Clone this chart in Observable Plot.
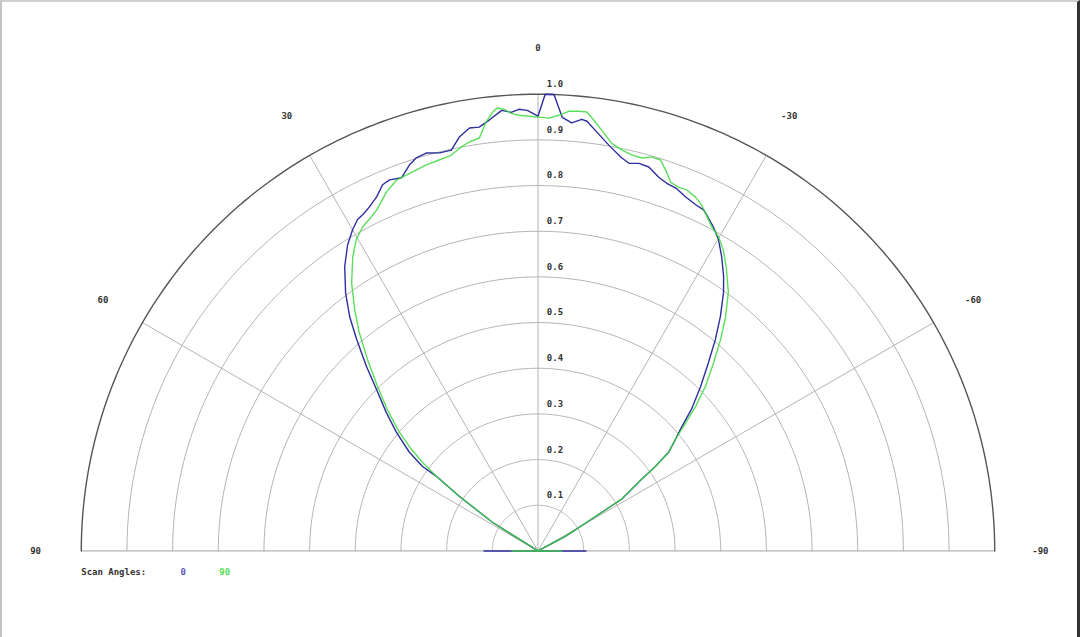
<!DOCTYPE html>
<html>
<head>
<meta charset="utf-8">
<script src="https://cdn.jsdelivr.net/npm/d3@7"></script>
<script src="https://cdn.jsdelivr.net/npm/@observablehq/plot@0.6"></script>
<style>
  html, body { margin: 0; padding: 0; background: #fff; }
  #frame { position: relative; width: 1080px; height: 637px; box-sizing: border-box;
           border-top: 2px solid #d0d0d0; border-left: 2px solid #c4c4c4; border-right: 3px solid #333; overflow: hidden; }
  #chart { position: absolute; left: -2px; top: -2px; }
  svg text { font-family: "DejaVu Sans Mono", "Liberation Mono", monospace; font-weight: bold; }
</style>
</head>
<body>
<div id="frame"><div id="chart"></div></div>
<script>
// ---- data: angle (deg, positive = left of 0) and normalised radius ----
const blueAngles = [90, 89, 59, 57.8, 55.2, 53.7, 53.8, 52.5, 50.0, 47.6, 45, 42.9, 40.6, 38.8, 36.7, 34.2, 31.9, 30.0, 28.6, 27.2, 26.1, 24.5, 23.0, 21.8, 20.1, 18.4, 17.2, 15.7, 13.9, 12.2, 10.8, 9.2, 7.9, 6.5, 4.7, 3.5, 2.5, 1.4, 0, -0.9, -2.0, -3.2, -4.5, -5.8, -6.5, -8.0, -9.9, -11.9, -13.2, -14.6, -16.1, -17.9, -19.3, -20.8, -22.6, -24.5, -25.9, -27.1, -28.4, -30.1, -32.0, -34.1, -35.7, -37.9, -40.0, -42.1, -44.7, -47.3, -49.5, -50.9, -52.9, -54.2, -55.3, -58.2, -59.3, -61.8, -63, -89, -90];
const blueRadii  = [0.118, 0, 0, 0.119, 0.21, 0.276, 0.314, 0.355, 0.405, 0.45, 0.5, 0.552, 0.61, 0.658, 0.705, 0.753, 0.789, 0.812, 0.826, 0.832, 0.839, 0.852, 0.871, 0.875, 0.870, 0.891, 0.901, 0.905, 0.898, 0.898, 0.922, 0.938, 0.937, 0.949, 0.968, 0.962, 0.968, 0.965, 0.952, 1.0, 1.0, 0.951, 0.940, 0.950, 0.947, 0.926, 0.902, 0.881, 0.872, 0.877, 0.875, 0.860, 0.853, 0.850, 0.840, 0.833, 0.830, 0.819, 0.807, 0.788, 0.759, 0.725, 0.696, 0.650, 0.604, 0.557, 0.506, 0.457, 0.410, 0.388, 0.359, 0.318, 0.276, 0.216, 0.137, 0.069, 0, 0, 0.105];

const greenAngles = [90, 89, 59, 57.8, 55.2, 53.7, 52.5, 51.2, 49.4, 46.8, 44.3, 41.7, 39.3, 37.2, 34.8, 32.2, 30.3, 28.4, 26.9, 25.3, 22.9, 20.9, 19.3, 17.7, 16.1, 14.2, 12.4, 10.8, 9.55, 8.1, 6.9, 6.0, 5.3, 4.4, 3.5, 2.5, 1.2, 0, -1.45, -2.75, -4.0, -5.3, -6.35, -7.4, -8.6, -10.25, -11.8, -13.3, -14.8, -16.1, -17.4, -18.5, -19.8, -21.1, -22.4, -24.0, -25.3, -26.6, -28.2, -29.9, -31.6, -33.6, -36.3, -38.7, -40.8, -43.0, -45.5, -47.5, -49.4, -50.9, -52.9, -54.2, -55.3, -58.2, -59.3, -61.8, -63, -89, -90];
const greenRadii  = [0.057, 0, 0, 0.119, 0.21, 0.276, 0.319, 0.356, 0.400, 0.453, 0.503, 0.561, 0.618, 0.664, 0.715, 0.761, 0.789, 0.807, 0.815, 0.826, 0.853, 0.869, 0.872, 0.876, 0.880, 0.883, 0.887, 0.900, 0.908, 0.913, 0.946, 0.964, 0.974, 0.970, 0.960, 0.955, 0.952, 0.950, 0.948, 0.955, 0.965, 0.967, 0.967, 0.951, 0.932, 0.907, 0.897, 0.891, 0.890, 0.898, 0.897, 0.880, 0.858, 0.854, 0.855, 0.848, 0.838, 0.823, 0.805, 0.793, 0.774, 0.745, 0.704, 0.657, 0.612, 0.564, 0.514, 0.468, 0.420, 0.388, 0.359, 0.318, 0.276, 0.216, 0.137, 0.069, 0, 0, 0.052];

const ringValues   = [0.1, 0.2, 0.3, 0.4, 0.5, 0.6, 0.7, 0.8, 0.9, 1.0];
const ringLabels   = ["0.1", "0.2", "0.3", "0.4", "0.5", "0.6", "0.7", "0.8", "0.9", "1.0"];
const spokeAngles  = [60, 30, 0, -30, -60];
const angleTicks   = [90, 60, 30, 0, -30, -60, -90];
const angleLabels  = ["90", "60", "30", "0", "-30", "-60", "-90"];
const seriesNames  = ["0", "90"];
const seriesColors = ["#2e2e9e", "#3ed83e"];
const legendColors = ["#5555b8", "#55dd55"];
const legendTitle  = "Scan Angles:";

// ---- polar helpers (0 deg at top, positive angles to the left) ----
const rad = a => a * Math.PI / 180;
const px = (a, r) => -r * Math.sin(rad(a));
const py = (a, r) => r * Math.cos(rad(a));

function toXY(angles, radii, name) {
  return angles.map((a, i) => ({x: px(a, radii[i]), y: py(a, radii[i]), s: name}));
}
const blue = toXY(blueAngles, blueRadii, seriesNames[0]);
const green = toXY(greenAngles, greenRadii, seriesNames[1]);

// grid rings (geometry)
const sweep = d3.range(-90, 90.5, 1);
const rings = ringValues.flatMap(r => sweep.map(a => ({x: px(a, r), y: py(a, r), r})));
const innerRings = rings.filter(d => d.r < 1);
const outerRing = rings.filter(d => d.r === 1);
const spokes = spokeAngles.map(a => ({x2: px(a, 1), y2: py(a, 1)}));
const angLab = angleTicks.map((a, i) => ({x: px(a, 1.1), y: py(a, 1.1), t: angleLabels[i]}));
const ringLab = ringValues.map((r, i) => ({x: 0, y: r, t: ringLabels[i]}));

const legendY = -0.046;
const legendItems = [
  {x: -0.777, t: seriesNames[0], c: legendColors[0]},
  {x: -0.686, t: seriesNames[1], c: legendColors[1]}
];

const chart = Plot.plot({
  width: 1080,
  height: 637,
  margin: 0,
  x: {domain: [-1, 1], range: [81, 997], axis: null},
  y: {domain: [0, 1], range: [552, 94], axis: null},
  marks: [
    Plot.line(innerRings, {x: "x", y: "y", z: "r", stroke: "#b4b4b4", strokeWidth: 1, curve: "linear"}),
    Plot.link(spokes, {x1: 0, y1: 0, x2: "x2", y2: "y2", stroke: "#b4b4b4", strokeWidth: 1}),
    Plot.link([{}], {x1: -1, x2: 1, y1: 0, y2: 0, stroke: "#b4b4b4", strokeWidth: 1.2}),
    Plot.line(outerRing, {x: "x", y: "y", stroke: "#555", strokeWidth: 1.4, curve: "linear"}),
    Plot.text(ringLab, {x: "x", y: "y", text: "t", dx: 17, dy: -10, fill: "#333", fontSize: 9}),
    Plot.text(angLab, {x: "x", y: "y", text: "t", fill: "#333", fontSize: 9}),
    Plot.line(blue, {x: "x", y: "y", stroke: seriesColors[0], strokeWidth: 1.4, curve: "linear"}),
    Plot.line(green, {x: "x", y: "y", stroke: seriesColors[1], strokeWidth: 1.4, strokeOpacity: 0.85, curve: "linear"}),
    Plot.text([legendTitle], {x: -1, y: legendY, text: d => d, fill: "#333", textAnchor: "start", fontSize: 9}),
    Plot.text(legendItems, {x: "x", y: legendY, text: "t", fill: "c", textAnchor: "middle", fontSize: 9})
  ]
});
document.getElementById("chart").appendChild(chart);
</script>
</body>
</html>
